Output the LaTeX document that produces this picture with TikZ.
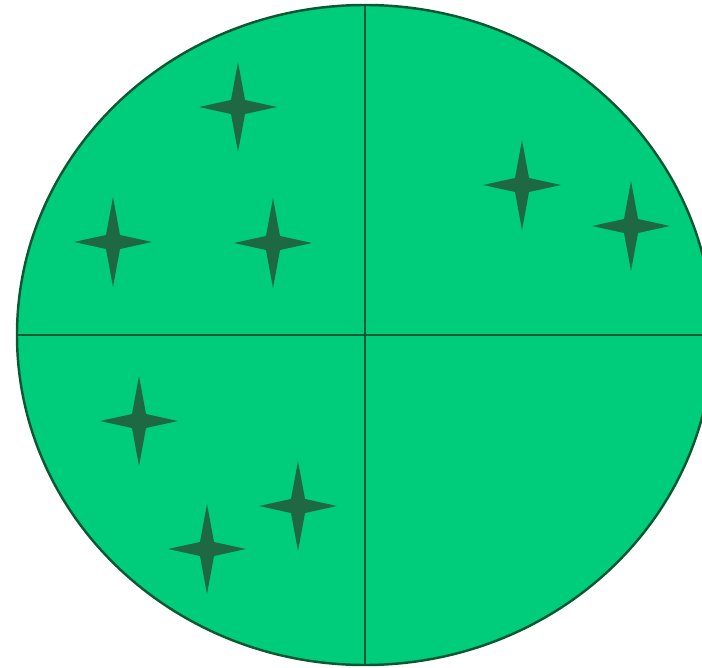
\documentclass[tikz,border=0pt]{standalone}
\usepackage{xcolor}
\usepackage{tikz}
\definecolor{discgreen}{RGB}{0,205,123}
\definecolor{rimgreen}{RGB}{8,88,52}
\definecolor{stargreen}{RGB}{30,104,68}

\begin{document}
\begin{tikzpicture}[x=0.02cm, y=-0.02cm, line width=1.4pt]
	\useasboundingbox (0,0) rectangle (702,668);
	\clip (0,0) rectangle (702,668);
	
	% Disc split into four quarters
	\draw[rimgreen, fill=discgreen] (365,335) ellipse [x radius=348, y radius=330];
	\draw[rimgreen] (17,335) -- (713,335);
	\draw[rimgreen] (365,5) -- (365,665);
	
	% Four-pointed stars
	\foreach \sx/\sy in {238/107, 113/242, 273/243, 522/185, 631/226, 139/421, 298/506, 207/549}
	{
		\fill[stargreen] (\sx,\sy-45) -- (\sx+7,\sy-7) -- (\sx+39,\sy) -- (\sx+7,\sy+7)
			-- (\sx,\sy+45) -- (\sx-7,\sy+7) -- (\sx-39,\sy) -- (\sx-7,\sy-7) -- cycle;
	}
\end{tikzpicture}
\end{document}
